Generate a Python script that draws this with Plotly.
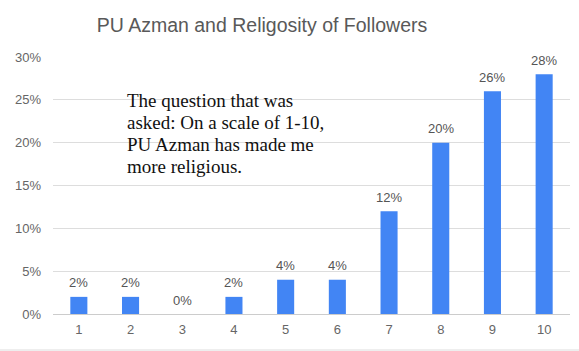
import plotly.graph_objects as go

categories = ["1", "2", "3", "4", "5", "6", "7", "8", "9", "10"]
values = [0.02, 0.02, 0.0, 0.02, 0.04, 0.04, 0.12, 0.20, 0.26, 0.28]
labels = ["2%", "2%", "0%", "2%", "4%", "4%", "12%", "20%", "26%", "28%"]
y_ticks = [0, 0.05, 0.10, 0.15, 0.20, 0.25, 0.30]
y_tick_text = ["0%", "5%", "10%", "15%", "20%", "25%", "30%"]
title_text = "PU Azman and Religosity of Followers"
note_lines = ["The question that was", "asked: On a scale of 1-10,",
              "PU Azman has made me", "more religious."]

sans = "Arial, Liberation Sans, sans-serif"
serif = "Liberation Serif, Times New Roman, serif"

fig = go.Figure()
fig.add_trace(go.Bar(
    x=categories, y=values,
    marker=dict(color="#4285F4", line=dict(width=0)),
    width=0.33, hoverinfo="skip",
))

# category axis: annotation x given as category index
value_labels = [dict(x=i, y=v, text=t, xref="x", yref="y", showarrow=False,
                     yanchor="middle", yshift=14,
                     font=dict(family=sans, size=13, color="#555555"))
                for i, (v, t) in enumerate(zip(values, labels))]

plot_top, plot_h, plot_left, plot_w = 57, 257, 53, 517
note_annos = []
for k, line in enumerate(note_lines):
    center_px = 101 + k * 21.7
    note_annos.append(dict(text=line, xref="paper", yref="paper",
                           x=(125 - plot_left) / plot_w,
                           y=(plot_top + plot_h - center_px) / plot_h,
                           xanchor="left", yanchor="middle", align="left",
                           showarrow=False,
                           font=dict(family=serif, size=19, color="#111111")))

fig.update_layout(
    width=579, height=351,
    margin=dict(l=53, r=9, t=57, b=37),
    paper_bgcolor="white", plot_bgcolor="white",
    showlegend=False,
    title=dict(text=title_text, x=262/579, xanchor="center", xref="container",
               y=1 - 25/351, yanchor="middle",
               font=dict(family=sans, size=19.5, color="#595959")),
    font=dict(family=sans, size=13, color="#666666"),
    xaxis=dict(type="category", range=[-0.5, 9.5], showgrid=False, showline=False, ticks="",
               tickfont=dict(size=13, color="#666666"), ticklabelstandoff=6),
    yaxis=dict(range=[0, 0.30], tickvals=y_ticks, ticktext=y_tick_text,
               showgrid=True, gridcolor="#dddddd", gridwidth=1, zeroline=True,
               zerolinecolor="#cccccc", zerolinewidth=1, showline=False, ticks="",
               tickfont=dict(size=13, color="#666666"), ticklabelstandoff=11),
    annotations=value_labels + note_annos,
    shapes=[dict(type="line", xref="paper", yref="paper", x0=-53/517, x1=(579-53)/517,
                 y0=-(350 - 314) / 257, y1=-(350 - 314) / 257,
                 line=dict(color="#dddddd", width=1))],
)

fig.write_html("out.html")
